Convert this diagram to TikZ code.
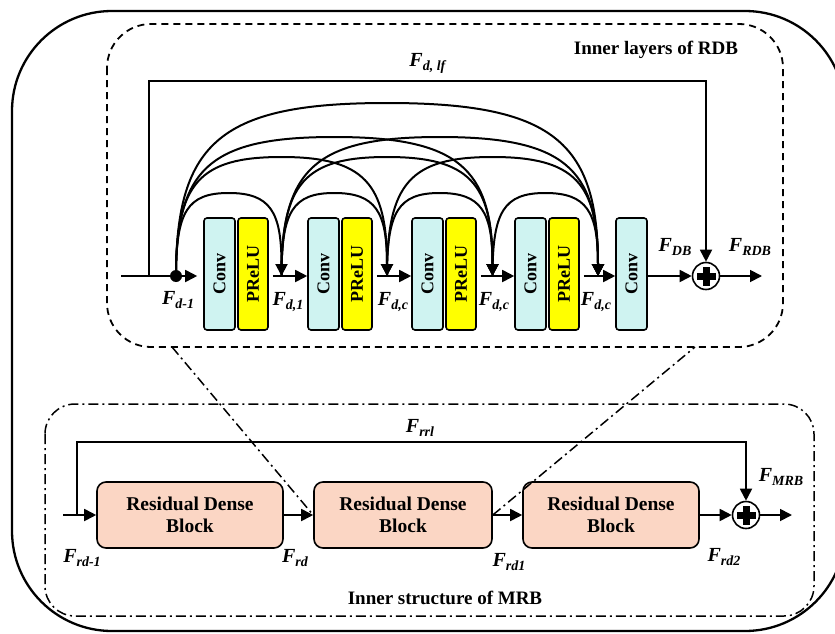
\documentclass[tikz,border=0pt]{standalone}
\usepackage{fontspec}
\setmainfont{Liberation Serif}
\usetikzlibrary{arrows.meta,calc}
\definecolor{convc}{HTML}{CFF3F1}
\definecolor{reluc}{HTML}{FFFF00}
\definecolor{rdbc}{HTML}{FBD6C4}
\newcommand\Fs[1]{\textbf{\textit{F}}\raisebox{-4pt}{\fontsize{14}{14}\selectfont\textbf{\textit{#1}}}}
\newcommand\darc[4]{\draw[arr,line width=2pt] (#1) .. controls +(0,0.78*#4) and +(-0.78*#3,0) .. ($(#1)!0.5!(#2)+(0,#4)$) .. controls +(0.78*#3,0) and +(0,0.78*#4) .. (#2);}
\newcommand\pluscross[1]{\fill (#1) ++(-9.5,-3.5) rectangle ++(19,7); \fill (#1) ++(-3.5,-9.5) rectangle ++(7,19);}
\tikzset{
  arr/.style={line width=1.8pt,-{Triangle[length=12pt,width=12pt]}},
  convbox/.style={draw,line width=1.6pt,rounded corners=3pt,fill=convc,minimum width=31pt,minimum height=112pt,inner sep=0pt,font=\bfseries\fontsize{18}{18}\selectfont},
  relubox/.style={convbox,fill=reluc,minimum width=30pt},
  rdbbox/.style={draw,line width=1.6pt,rounded corners=9pt,fill=rdbc,minimum height=66pt,inner sep=0pt,align=center,font=\bfseries\fontsize{19.5}{22}\selectfont},
  addc/.style={draw,circle,line width=1.6pt,fill=white,minimum size=27pt,inner sep=0pt},
  flab/.style={inner sep=0pt,font=\fontsize{20}{20}\selectfont},
  title/.style={inner sep=0pt,font=\bfseries\fontsize{19}{19}\selectfont},
  ddot/.style={line width=1.5pt,dash pattern=on 10pt off 4pt on 2pt off 4pt}
}
\begin{document}
\begin{tikzpicture}[x=1pt,y=1pt]
\useasboundingbox (0,0) rectangle (835,-634);
\clip (0,0) rectangle (835,-634);
% outer frame
\draw[line width=2.3pt,rounded corners=100pt] (12,-11) rectangle (845,-631);
% RDB inner dashed box
\draw[line width=1.8pt,dash pattern=on 7pt off 5pt,rounded corners=44pt] (107,-24) rectangle (783,-347);
% MRB dash-dot box
\draw[ddot,rounded corners=30pt] (45,-404) rectangle (814,-616);
\node[title] (tRDB) at (656,-50) {Inner layers of RDB};
\node[title] (tMRB) at (445,-598) {Inner structure of MRB};

% ---------- RDB internals ----------
\node[convbox] (conv1) at (219.5,-274) {\rotatebox{90}{Conv}};
\node[relubox] (relu1) at (253,-274) {\rotatebox{90}{PReLU}};
\node[convbox] (conv2) at (323.5,-274) {\rotatebox{90}{Conv}};
\node[relubox] (relu2) at (357,-274) {\rotatebox{90}{PReLU}};
\node[convbox] (conv3) at (427.5,-274) {\rotatebox{90}{Conv}};
\node[relubox] (relu3) at (461,-274) {\rotatebox{90}{PReLU}};
\node[convbox] (conv4) at (530.5,-274) {\rotatebox{90}{Conv}};
\node[relubox] (relu4) at (564,-274) {\rotatebox{90}{PReLU}};
\node[convbox] (conv5) at (631.5,-274) {\rotatebox{90}{Conv}};
\node[addc] (add1) at (706,-276) {};
\pluscross{add1}

\coordinate (in) at (121,-276);
\coordinate (lfb) at (149,-276);
\coordinate (lftop) at (149,-81);
\coordinate (j0) at (176,-276);
\coordinate (j1) at (281.5,-276);
\coordinate (j2) at (387,-276);
\coordinate (j3) at (492.5,-276);
\coordinate (j4) at (598,-276);
\coordinate (rdbout) at (762,-276);

\draw[arr] (in) -- ($(conv1.west |- j0)+(-6,0)$);
\fill (j0) circle (6pt);
\draw[arr] (relu1.east |- j1) ++(4,0) -- (conv2.west |- j1);
\draw[arr] (relu2.east |- j2) ++(4,0) -- (conv3.west |- j2);
\draw[arr] (relu3.east |- j3) ++(4,0) -- (conv4.west |- j3);
\draw[arr] (relu4.east |- j4) ++(4,0) -- (conv5.west |- j4);
\draw[arr] (conv5.east |- add1) -- (add1.west);
\draw[arr] (add1.east) -- (rdbout);
\draw[arr] (lfb) -- (lftop) -| (add1.north);

% dense connections
\darc{j0}{j1}{52.75}{83}
\darc{j1}{j2}{52.75}{83}
\darc{j2}{j3}{52.75}{83}
\darc{j3}{j4}{52.75}{83}
\darc{j0}{j2}{105.5}{119}
\darc{j1}{j3}{105.5}{119}
\darc{j2}{j4}{105.5}{119}
\darc{j0}{j3}{158.25}{139}
\darc{j1}{j4}{158.25}{139}
\darc{j0}{j4}{211}{173}

\node[flab] (lFd1) at (178,-300) {\Fs{d-1}};
\node[flab] (lFda) at (288,-302) {\Fs{d,1}};
\node[flab] (lFdb) at (393,-302) {\Fs{d,c}};
\node[flab] (lFdc) at (494,-302) {\Fs{d,c}};
\node[flab] (lFdd) at (596,-302) {\Fs{d,c}};
\node[flab] (lFDB) at (675,-247) {\Fs{DB}};
\node[flab] (lFRDB) at (750,-247) {\Fs{RDB}};
\node[flab] (lFlf) at (428,-63) {\Fs{d, lf}};

% ---------- MRB ----------
\node[rdbbox,minimum width=186pt] (rdb1) at (190,-515) {Residual Dense\\Block};
\node[rdbbox,minimum width=178pt] (rdb2) at (403,-515) {Residual Dense\\Block};
\node[rdbbox,minimum width=176pt] (rdb3) at (611,-515) {Residual Dense\\Block};
\node[addc] (add2) at (746,-515) {};
\pluscross{add2}
\coordinate (min) at (63,-515);
\coordinate (mskip) at (77,-515);
\coordinate (mskiptop) at (77,-442);
\coordinate (mout) at (792,-515);

\draw[arr] (min) -- (rdb1.west);
\draw[arr] (rdb1.east) -- (rdb2.west);
\draw[arr] (rdb2.east) -- (rdb3.west);
\draw[arr] (rdb3.east) -- (add2.west);
\draw[arr] (add2.east) -- (mout);
\draw[arr] (mskip) -- (mskiptop) -| (add2.north);

\node[flab] (lFrd0) at (82,-558) {\Fs{rd-1}};
\node[flab] (lFrd) at (295,-558) {\Fs{rd}};
\node[flab] (lFrd1) at (509,-562) {\Fs{rd1}};
\node[flab] (lFrd2) at (724,-557) {\Fs{rd2}};
\node[flab] (lFMRB) at (781,-477) {\Fs{MRB}};
\node[flab] (lFrrl) at (420,-428) {\Fs{rrl}};

% zoom guide lines
\coordinate (gl) at (172,-347);
\coordinate (gr) at (695,-347);
\draw[ddot] (gl) -- (rdb2.west);
\draw[ddot] (rdb2.east) -- (gr);
\end{tikzpicture}
\end{document}
